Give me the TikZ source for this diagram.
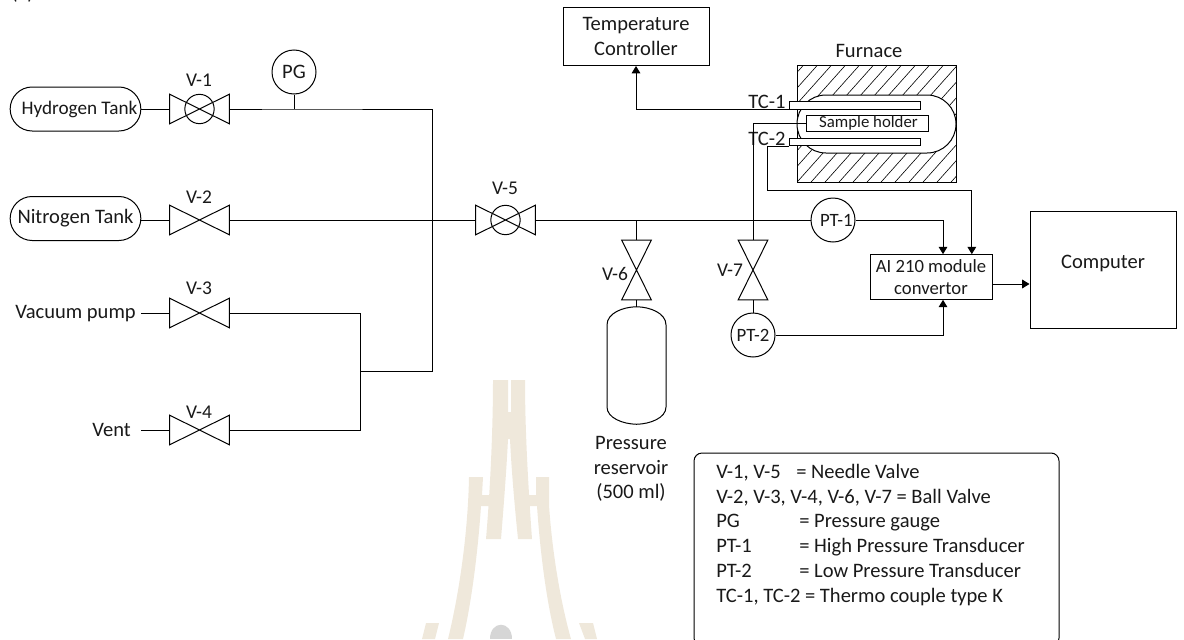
\documentclass[tikz,border=0pt]{standalone}
\usepackage{fontspec}
\setmainfont{Carlito}
\usetikzlibrary{arrows.meta}
\tikzset{
  x=0.75pt,y=-0.75pt,
  every node/.style={font=\fontsize{15.4}{18.4}\selectfont,text=black!90},
  line/.style={draw=black,line width=0.75pt},
  arrowline/.style={line,-{Triangle[length=5.5pt,width=6.5pt]}},
  hvalve/.style={minimum width=44.25pt,minimum height=21.75pt,inner sep=0pt},
  vvalve/.style={minimum width=21.75pt,minimum height=44.25pt,inner sep=0pt},
  ballcirc/.style={circle,line,minimum size=22pt,inner sep=0pt},
  gauge/.style={circle,line,minimum size=33pt,inner sep=0pt},
  tank/.style={line,rounded corners=16.5pt,minimum width=98pt,minimum height=33pt,inner sep=0pt},
  box/.style={line,inner sep=0pt,align=center},
  probe/.style={line,fill=white,inner sep=0pt,minimum width=98.25pt},
  txt/.style={inner sep=0pt,align=center},
  vlabel/.style={txt,font=\fontsize{14.6}{17}\selectfont},
  ptfont/.style={font=\fontsize{14.1}{17}\selectfont},
  legend/.style={inner sep=0pt,anchor=base west},
}
\definecolor{wmtan}{HTML}{EFE8DB}
\definecolor{wmgray}{HTML}{D6D6D6}
\newcommand{\valveH}[1]{\draw[line] (#1.north west)--(#1.south west)--(#1.north east)--(#1.south east)--cycle;}
\newcommand{\valveV}[1]{\draw[line] (#1.north west)--(#1.north east)--(#1.south west)--(#1.south east)--cycle;}
\begin{document}
\begin{tikzpicture}
\useasboundingbox (0,0) rectangle (1184,639);
\begin{scope}
\clip (0,0) rectangle (1184,639);
% watermark
\fill[wmtan] (493,380) -- (508,380) -- (508,412) -- (511,412) -- (511,380) -- (525,380) .. controls (525,420) and (527,470) .. (532,539) -- (518,539) .. controls (513,490) and (511,460) .. (510,439) -- (508,439) .. controls (507,460) and (505,490) .. (501,539) -- (486,539) .. controls (491,480) and (493,420) .. (493,380) -- cycle;
\fill[wmtan] (469,477) -- (483,477) -- (482,495) -- (490,495) -- (489,506) -- (481,506) .. controls (478,550) and (472,600) .. (463,639) -- (448,639) .. controls (460,590) and (468,530) .. (469,477) -- cycle;
\fill[wmtan] (536,477) -- (549,477) -- (549,505) .. controls (552,550) and (560,600) .. (571,639) -- (556,639) .. controls (546,600) and (540,550) .. (537,506) -- (528,506) -- (527,495) -- (536,495) -- cycle;
\fill[wmtan] (426,623) -- (439,623) -- (435,639) -- (422,639) -- cycle;
\fill[wmtan] (579,623) -- (593,623) -- (597,639) -- (585,639) -- cycle;
\fill[wmgray] (490,639) .. controls (490,620) and (512,620) .. (512,639) -- cycle;
% "(a)" cut at the top edge
\node[anchor=base west,inner sep=0pt] (alabel) at (11,-1) {(a)};
% furnace hatching
\begin{scope}
\clip (797,65) rectangle (956,182);
\foreach \i in {0,...,30}{\draw[line width=0.45pt] ({650+14*\i},190) -- ({650+14*\i+125},50);}
\end{scope}
% legend
\draw[line,rounded corners=6pt] (694,453) rectangle (1059,646);
\end{scope}
\node[box,minimum width=109.5pt,minimum height=43.5pt] (tc) at (636,36.5) {Temperature\\[0.6pt]Controller};
\node[txt] (furnlabel) at (869,51) {Furnace};
\draw[line] (797,65) rectangle (956,182);
\node[line,fill=white,minimum width=119.25pt,minimum height=43.5pt,rounded corners=21.7pt,inner sep=0pt] (chamber) at (876.5,124) {};
\node[probe,minimum height=5.5pt] (tc1) at (854.5,105.5) {};
\node[box,fill=white,minimum width=91.5pt,minimum height=11.5pt,font=\fontsize{12.6}{14}\selectfont] (holder) at (867,123.5) {\hspace*{2.2pt}Sample holder};
\node[probe,minimum height=5.5pt] (tc2) at (854.5,142) {};
\node[txt] (tc1l) at (767,102) {TC-1};
\node[txt] (tc2l) at (767,139) {TC-2};
% tanks
\node[tank,font=\fontsize{14.4}{17}\selectfont] (h2) at (75.5,109) {\hspace*{6pt}Hydrogen Tank};
\node[tank] (n2) at (75.5,218.5) {Nitrogen Tank};
\node[txt,anchor=east] (vac) at (136,314) {Vacuum pump};
\node[txt,anchor=east] (vent) at (131,430) {Vent};
\coordinate (vacend) at (141,313);
\coordinate (ventend) at (141,430);
% valves
\node[hvalve] (v1) at (199.5,109) {};
\node[hvalve] (v2) at (199.5,220) {};
\node[hvalve] (v3) at (199.5,313) {};
\node[hvalve] (v4) at (199.5,430) {};
\node[hvalve] (v5) at (505.5,220) {};
\node[vvalve] (v6) at (636.5,270) {};
\node[vvalve] (v7) at (753,270) {};
\valveH{v1}\valveH{v2}\valveH{v3}\valveH{v4}\valveH{v5}\valveV{v6}\valveV{v7}
\node[ballcirc] (b1) at (199.5,109) {};
\node[ballcirc] (b5) at (505.5,220) {};
\node[vlabel] at (199,80) {V-1};
\node[vlabel] at (199,197) {V-2};
\node[vlabel] at (199,288) {V-3};
\node[vlabel] at (199,412) {V-4};
\node[vlabel] at (505,188) {V-5};
\node[vlabel] at (615,274) {V-6};
\node[vlabel] at (730,270) {V-7};
% instruments
\node[gauge] (pg) at (294,72) {PG};
\node[gauge,ptfont] (pt1) at (833,220) {\hspace*{5pt}PT-1};
\node[gauge,ptfont] (pt2) at (753,335) {PT-2};
% boxes
\node[box,minimum width=91.5pt,minimum height=33.5pt,font=\fontsize{14}{17}\selectfont] (ai) at (931,277) {AI 210 module\\convertor};
\node[box,minimum width=109.5pt,minimum height=87.75pt] (pc) at (1103,269.5) {};
\node[txt] (pclabel) at (1103,263) {Computer};
% tank reservoir
\node[inner sep=0pt,minimum width=44.25pt,minimum height=87.75pt] (res) at (636.5,365.5) {};
\draw[line] (res.north) .. controls (650,307) and (666,313) .. (666,325) -- (666,407) .. controls (666,418) and (650,424) .. (res.south) .. controls (623,424) and (607,418) .. (607,407) -- (607,325) .. controls (607,313) and (623,307) .. (res.north);
\node[txt] (reslabel) at (631,469) {Pressure\\reservoir\\(500 ml)};
% connectors
\coordinate (j1) at (294,109);
\coordinate (jr) at (432,371);
\coordinate (jv) at (360,371);
\coordinate (j6) at (636.5,220);
\coordinate (tcdrop) at (767,190);
\draw[line] (h2.east) -- (v1.west);
\draw[line] (v1.east) -- (j1) -- (432,109) -- (jr) -- (jv);
\draw[line] (pg.south) -- (j1);
\draw[line] (n2.east |- v2.west) -- (v2.west);
\draw[line] (v2.east) -- (v5.west);
\draw[line] (v5.east) -- (pt1.west);
\draw[line] (j6) -- (v6.north);
\draw[line] (v6.south) -- (res.north);
\draw[line] (vacend) -- (v3.west);
\draw[line] (ventend) -- (v4.west);
\draw[line] (v3.east) -- (360,313) -- (360,430) -- (v4.east);
\draw[line] (holder.west) -| (v7.north);
\draw[line] (v7.south) -- (pt2.north);
\draw[arrowline] (pt1.east) -| ([xshift=9pt]ai.north);
\draw[arrowline] (tc2.south west) -| (tcdrop) -| ([xshift=30.6pt]ai.north);
\draw[arrowline] (pt2.east) -| ([xshift=9pt]ai.south);
\draw[arrowline] (ai.east |- 0,284) -- (pc.west |- 0,284);
\draw[arrowline] (tc1.south west) -| (tc.south);
% legend text
\node[legend] at (716,478) {V-1, V-5};
\node[legend] at (796,478) {= Needle Valve};
\node[legend] at (716,503) {V-2, V-3, V-4, V-6, V-7 = Ball Valve};
\node[legend] at (716,527) {PG};
\node[legend] at (799,527) {= Pressure gauge};
\node[legend] at (716,552) {PT-1};
\node[legend] at (799,552) {= High Pressure Transducer};
\node[legend] at (716,577) {PT-2};
\node[legend] at (799,577) {= Low Pressure Transducer};
\node[legend] at (716,602) {TC-1, TC-2 = Thermo couple type K};
\end{tikzpicture}
\end{document}
